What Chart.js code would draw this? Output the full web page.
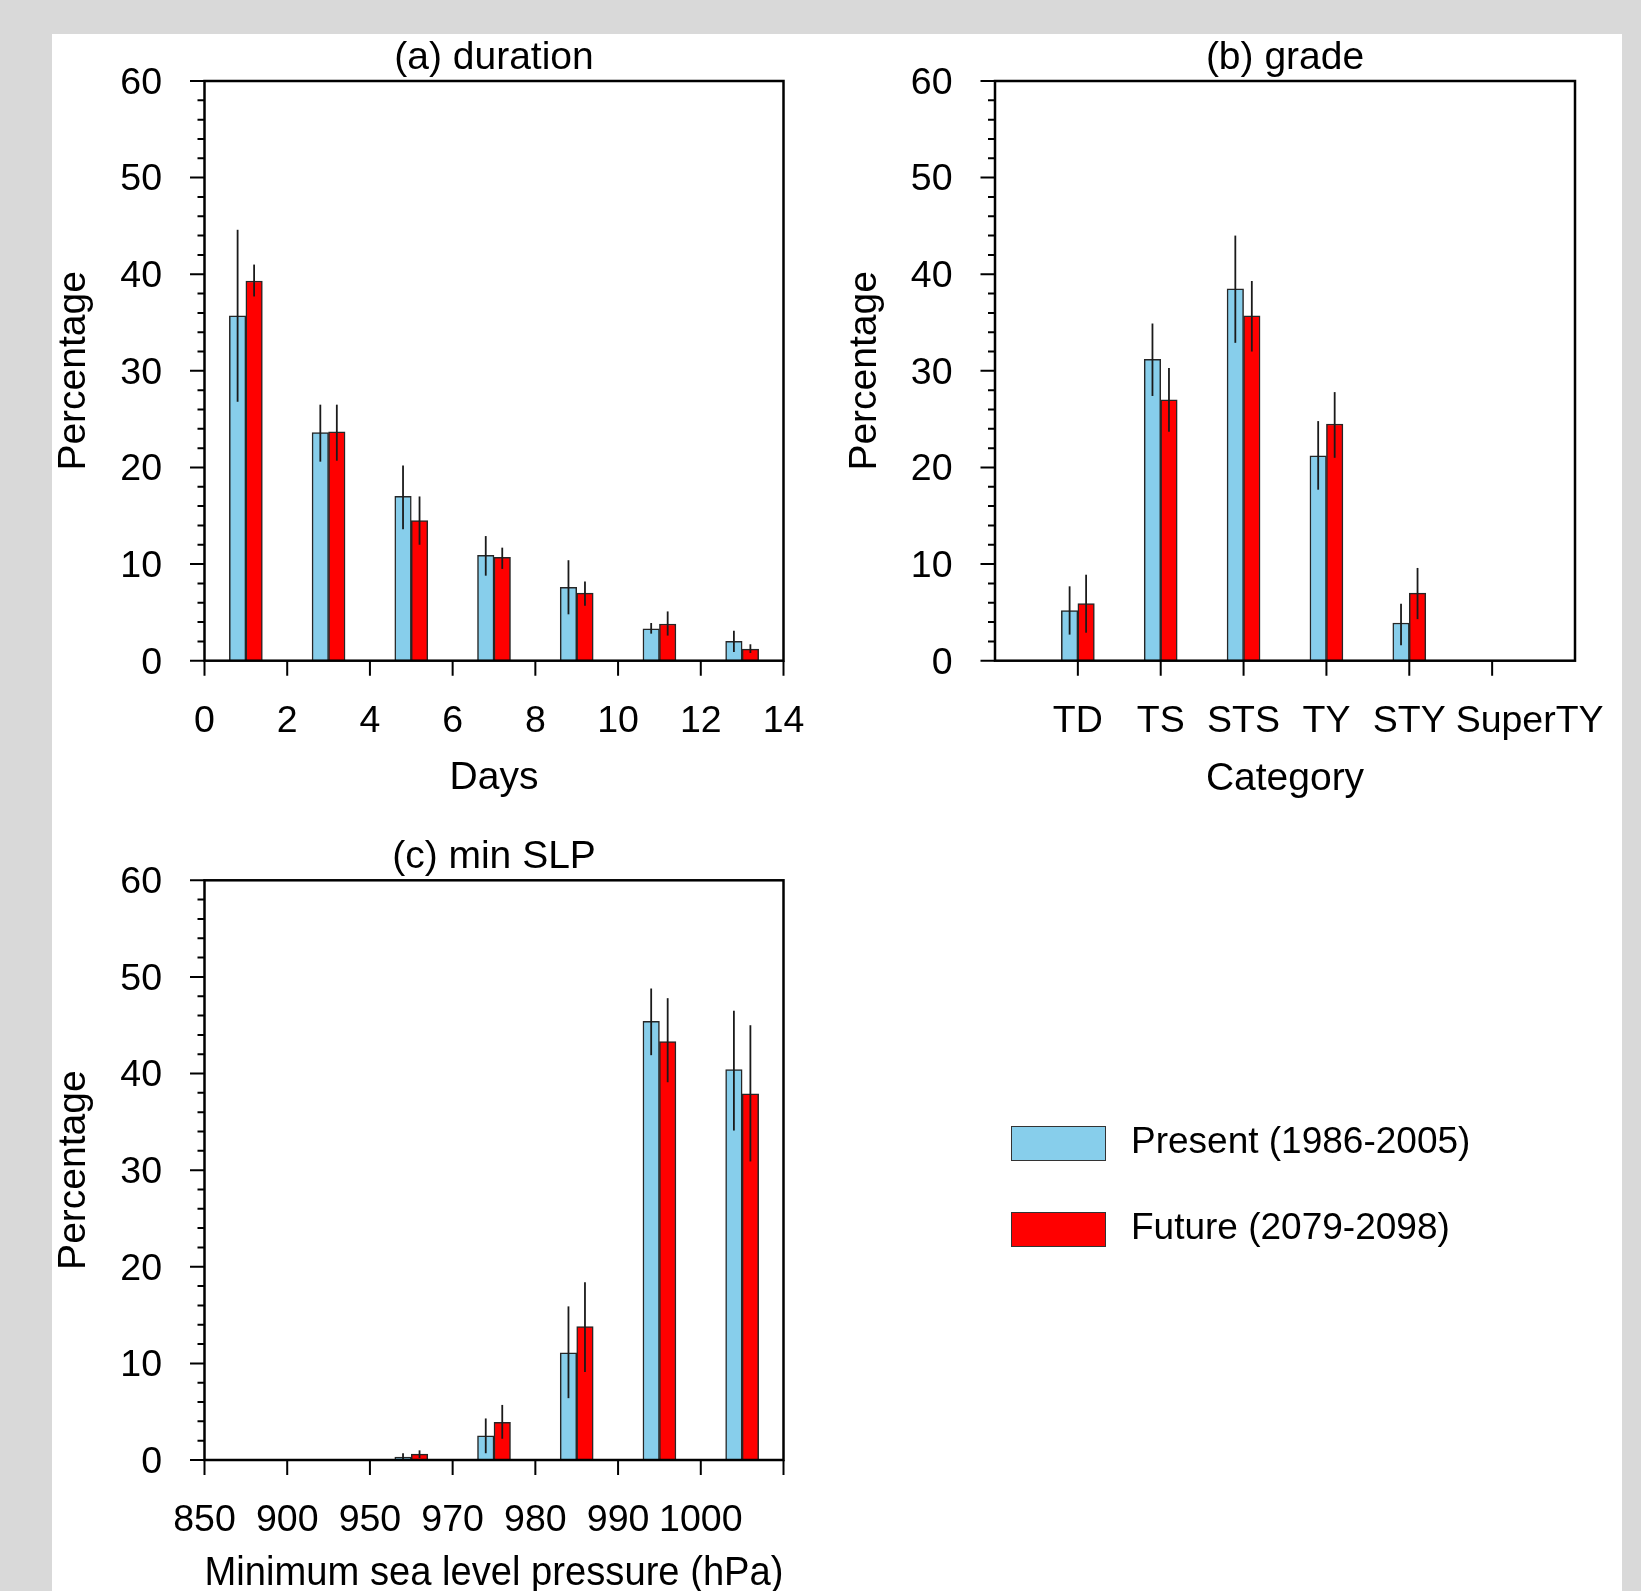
<!DOCTYPE html>
<html>
<head>
<meta charset="utf-8">
<script src="https://cdn.jsdelivr.net/npm/chart.js"></script>
<style>
  html, body { margin: 0; padding: 0; }
  body { width: 1641px; height: 1591px; background: #d9d9d9; overflow: hidden; position: relative; font-family: 'Liberation Sans', Arial, sans-serif; }
  #sheet { position: absolute; left: 52px; top: 34px; width: 1570px; height: 1557px; background: #fff; }
  canvas { position: absolute; left: 0; top: 0; }
  .key { position: absolute; left: 1011px; width: 95px; height: 35px; box-sizing: border-box; border: 1.5px solid #333; }
  .key-label { position: absolute; left: 1131px; font-size: 37px; line-height: 44px; white-space: nowrap; color: #000; }
</style>
</head>
<body>
<div id="sheet"></div>
<canvas id="duration" width="1641" height="1700"></canvas>
<canvas id="grade" width="1641" height="1700"></canvas>
<canvas id="min_slp" width="1641" height="1700"></canvas>

<div class="key" style="top:1126px; background:#87ceeb;"></div>
<div class="key-label" style="top:1119px;">Present (1986-2005)</div>
<div class="key" style="top:1212px; background:#ff0000;"></div>
<div class="key-label" style="top:1205px;">Future (2079-2098)</div>

<script>
// data (percent of storms)

// (a) duration, bins centred on odd days
const days = [1, 3, 5, 7, 9, 11, 13];
const durationPresent = [35.7, 23.6, 17.0, 10.9, 7.6, 3.3, 2.0];
const durationPresentLow = [26.8, 20.6, 13.6, 8.8, 4.8, 2.8, 0.9];
const durationPresentHigh = [44.6, 26.5, 20.2, 12.9, 10.4, 3.9, 3.1];
const durationFuture = [39.3, 23.7, 14.5, 10.7, 7.0, 3.8, 1.2];
const durationFutureLow = [37.7, 20.7, 12.0, 9.5, 5.7, 2.6, 0.8];
const durationFutureHigh = [41.0, 26.5, 17.0, 11.7, 8.2, 5.1, 1.7];

// (b) grade
const grades = ['TD', 'TS', 'STS', 'TY', 'STY', 'SuperTY'];
const gradePresent = [5.2, 31.2, 38.5, 21.2, 3.9, 0];
const gradePresentLow = [2.7, 27.4, 32.9, 17.7, 1.6, 0];
const gradePresentHigh = [7.7, 34.9, 44.0, 24.8, 5.9, 0];
const gradeFuture = [5.9, 27.0, 35.7, 24.5, 7.0, 0];
const gradeFutureLow = [2.9, 23.7, 32.0, 21.0, 4.3, 0];
const gradeFutureHigh = [8.9, 30.3, 39.3, 27.8, 9.6, 0];

// (c) minimum SLP, bins sit between the tick labels
const slpLabels = ['850', '900', '950', '970', '980', '990', '1000'];
const slpPresent = [0, 0, 0.3, 2.5, 11.1, 45.4, 40.4];
const slpPresentLow = [0, 0, 0.0, 0.7, 6.4, 41.9, 34.1];
const slpPresentHigh = [0, 0, 0.7, 4.3, 15.9, 48.8, 46.5];
const slpFuture = [0, 0, 0.6, 3.9, 13.8, 43.3, 37.9];
const slpFutureLow = [0, 0, 0.2, 2.2, 9.1, 39.1, 30.9];
const slpFutureHigh = [0, 0, 1.0, 5.7, 18.4, 47.8, 45.0];

const presentColor = '#87ceeb';
const futureColor = '#ff0000';
const edgeColor = '#262626';

Chart.defaults.font.family = "'Liberation Sans', Arial, sans-serif";
Chart.defaults.color = '#000';

// vertical line for each bar from errLow to errHigh
const errorBars = {
    id: 'errorBars',
    afterDatasetsDraw(chart) {
        const ctx = chart.ctx;
        const y = chart.scales.y;
        ctx.save();
        ctx.strokeStyle = '#1a1a1a';
        ctx.lineWidth = 1.8;
        chart.data.datasets.forEach((ds, i) => {
            chart.getDatasetMeta(i).data.forEach((bar, j) => {
                const lo = ds.errLow[j];
                const hi = ds.errHigh[j];
                if (!(hi > lo)) return;
                ctx.beginPath();
                ctx.moveTo(bar.x, y.getPixelForValue(lo));
                ctx.lineTo(bar.x, y.getPixelForValue(hi));
                ctx.stroke();
            });
        });
        ctx.restore();
    }
};

// box round the plot, outward ticks (minor y ticks every 2 %)
const frame = {
    id: 'frame',
    afterDatasetsDraw(chart) {
        const ctx = chart.ctx;
        const a = chart.chartArea;
        const x = chart.scales.x;
        const y = chart.scales.y;
        ctx.save();
        ctx.strokeStyle = '#000';
        ctx.lineWidth = 2;
        ctx.beginPath();
        for (let v = y.min; v <= y.max; v += 2) {
            const py = y.getPixelForValue(v);
            ctx.moveTo(a.left - (v % 10 === 0 ? 14.5 : 7), py);
            ctx.lineTo(a.left, py);
        }
        x.ticks.forEach(t => {
            const px = x.getPixelForValue(t.value);
            ctx.moveTo(px, a.bottom);
            ctx.lineTo(px, a.bottom + 15);
        });
        ctx.stroke();
        ctx.lineWidth = 2.5;
        ctx.strokeRect(a.left, a.top, a.right - a.left, a.bottom - a.top);
        ctx.restore();
    }
};

function barSet(label, xs, values, low, high, color) {
    return {
        label: label,
        data: xs.map((x, i) => ({ x: x, y: values[i] })),
        errLow: low,
        errHigh: high,
        backgroundColor: color,
        borderColor: edgeColor,
        borderWidth: 1.5,
        barThickness: 16.5,
    };
}

// plot area is pinned: y axis 204.5 px wide, title block 81 px tall
function panelOptions(title, xTitle, xTitleSize, padding, xScale, xHeight) {
    return {
        responsive: false,
        animation: false,
        layout: { padding: padding },
        plugins: {
            legend: { display: false },
            tooltip: { enabled: false },
            title: {
                display: true,
                text: title,
                fullSize: false,
                color: '#000',
                font: { size: 39, weight: 'normal', lineHeight: 1.1 },
                padding: { top: 36.8, bottom: 1.3 },
            },
        },
        scales: {
            x: Object.assign({
                type: 'linear',
                offset: false,
                grid: { display: false, drawTicks: false },
                border: { display: false },
                title: { display: true, text: xTitle, color: '#000', font: { size: xTitleSize }, padding: 0 },
                afterFit: s => {
                    s.height = xHeight;
                    s.paddingLeft = 0;
                    s.paddingRight = 0;
                },
            }, xScale),
            y: {
                min: 0,
                max: 60,
                grid: { display: false, drawTicks: false },
                border: { display: false },
                ticks: { stepSize: 10, padding: 42.5, labelOffset: 2.5, color: '#000', font: { size: 37.5 } },
                title: { display: true, text: 'Percentage', color: '#000', font: { size: 39 }, padding: { top: 51, bottom: 0 } },
                afterFit: s => { s.width = 204.5; },
            },
        },
    };
}

function chart_duration() {
    const ctx = document.getElementById('duration');

    new Chart(ctx, {
        type: 'bar',
        data: {
            datasets: [
                barSet('Present (1986-2005)', days, durationPresent, durationPresentLow, durationPresentHigh, presentColor),
                barSet('Future (2079-2098)', days, durationFuture, durationFutureLow, durationFutureHigh, futureColor),
            ]
        },
        options: panelOptions('(a) duration', 'Days', 39,
            { left: 0, top: 0, right: 857.5, bottom: 898.8 },
            {
                min: 0,
                max: 14,
                ticks: { stepSize: 2, padding: 38, color: '#000', font: { size: 37.5 }, maxRotation: 0, autoSkip: false },
            }, 140.5),
        plugins: [errorBars, frame],
    });
}

function chart_grade() {
    const ctx = document.getElementById('grade');
    const xs = grades.map((g, i) => i + 1);

    new Chart(ctx, {
        type: 'bar',
        data: {
            datasets: [
                barSet('Present (1986-2005)', xs, gradePresent, gradePresentLow, gradePresentHigh, presentColor),
                barSet('Future (2079-2098)', xs, gradeFuture, gradeFutureLow, gradeFutureHigh, futureColor),
            ]
        },
        options: panelOptions('(b) grade', 'Category', 39,
            { left: 790.5, top: 0, right: 66, bottom: 897.8 },
            {
                min: 0,
                max: 7,
                afterBuildTicks: s => { s.ticks = xs.map(v => ({ value: v })); },
                ticks: {
                    padding: 38, color: '#000', font: { size: 37.5 }, maxRotation: 0, autoSkip: false,
                    // the last label is pushed right of its tick, as in the original
                    callback: v => (v === grades.length ? '\u2003\u2003' : '') + grades[v - 1],
                },
            }, 141.5),
        plugins: [errorBars, frame],
    });
}

function chart_min_slp() {
    const ctx = document.getElementById('min_slp');
    const xs = slpLabels.map((l, i) => i + 0.5);

    new Chart(ctx, {
        type: 'bar',
        data: {
            datasets: [
                barSet('Present (1986-2005)', xs, slpPresent, slpPresentLow, slpPresentHigh, presentColor),
                barSet('Future (2079-2098)', xs, slpFuture, slpFutureLow, slpFutureHigh, futureColor),
            ]
        },
        options: panelOptions('(c) min SLP', 'Minimum sea level pressure (hPa)', 40.5,
            { left: 0, top: 799.3, right: 857.5, bottom: 101.5 },
            {
                min: 0,
                max: 7,
                ticks: {
                    stepSize: 1, padding: 38.5, color: '#000', font: { size: 37.5 }, maxRotation: 0, autoSkip: false,
                    callback: v => slpLabels[v] || '',
                },
            }, 138.5),
        plugins: [errorBars, frame],
    });
}

chart_duration();
chart_grade();
chart_min_slp();
</script>
</body>
</html>
